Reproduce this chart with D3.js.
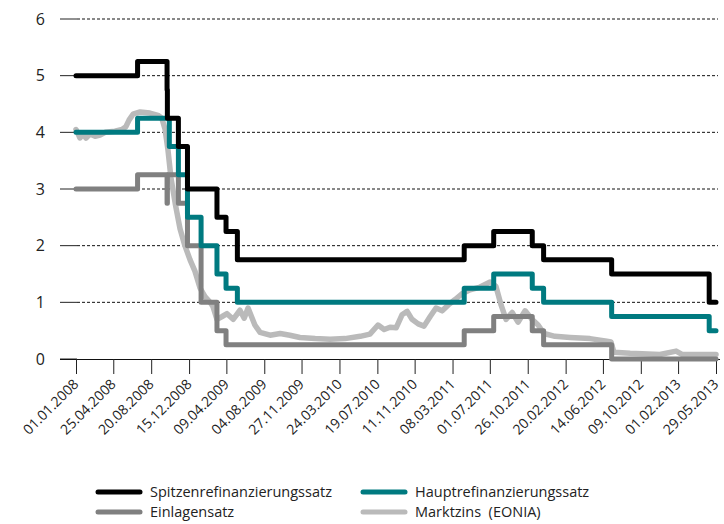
<!DOCTYPE html>
<html>
<head>
<meta charset="utf-8">
<script src="https://cdn.jsdelivr.net/npm/d3@7"></script>
<style>
  body { margin: 0; background: #fff; }
  svg text { font-family: "Open Sans", "DejaVu Sans", sans-serif; fill: #222; }
</style>
</head>
<body>
<svg width="724" height="524"></svg>
<script>
var yTicks = [0, 1, 2, 3, 4, 5, 6];
var xTicks = ["01.01.2008", "25.04.2008", "20.08.2008", "15.12.2008", "09.04.2009", "04.08.2009",
  "27.11.2009", "24.03.2010", "19.07.2010", "11.11.2010", "08.03.2011", "01.07.2011",
  "26.10.2011", "20.02.2012", "14.06.2012", "09.10.2012", "01.02.2013", "29.05.2013"];

// Leitzinsen (Stufen, gueltig ab Datum)
var spitzenrefi = [
  ["01.01.2008", 5.00], ["09.07.2008", 5.25], ["08.10.2008", 4.75], ["09.10.2008", 4.25],
  ["12.11.2008", 3.75], ["10.12.2008", 3.00], ["11.03.2009", 2.50], ["08.04.2009", 2.25],
  ["13.05.2009", 1.75], ["13.04.2011", 2.00], ["13.07.2011", 2.25], ["09.11.2011", 2.00],
  ["14.12.2011", 1.75], ["11.07.2012", 1.50], ["08.05.2013", 1.00], ["29.05.2013", 1.00]
];
var hauptrefi = [
  ["01.01.2008", 4.00], ["09.07.2008", 4.25], ["15.10.2008", 3.75], ["12.11.2008", 3.25],
  ["10.12.2008", 2.50], ["21.01.2009", 2.00], ["11.03.2009", 1.50], ["08.04.2009", 1.25],
  ["13.05.2009", 1.00], ["13.04.2011", 1.25], ["13.07.2011", 1.50], ["09.11.2011", 1.25],
  ["14.12.2011", 1.00], ["11.07.2012", 0.75], ["08.05.2013", 0.50], ["29.05.2013", 0.50]
];
var einlage = [
  ["01.01.2008", 3.00], ["09.07.2008", 3.25], ["08.10.2008", 2.75], ["09.10.2008", 3.25],
  ["12.11.2008", 2.75], ["10.12.2008", 2.00], ["21.01.2009", 1.00], ["11.03.2009", 0.50],
  ["08.04.2009", 0.25], ["13.04.2011", 0.50], ["13.07.2011", 0.75], ["09.11.2011", 0.50],
  ["14.12.2011", 0.25], ["11.07.2012", 0.00], ["29.05.2013", 0.00]
];
// EONIA
var eonia = [
  ["01.01.2008", 4.05], ["07.01.2008", 3.98], ["13.01.2008", 3.90], ["23.01.2008", 3.97],
  ["01.02.2008", 3.90], ["13.02.2008", 3.97], ["29.02.2008", 3.93], ["15.03.2008", 3.95],
  ["31.03.2008", 4.00], ["30.04.2008", 4.02], ["22.05.2008", 4.05], ["03.06.2008", 4.10],
  ["13.06.2008", 4.22], ["25.06.2008", 4.32], ["17.07.2008", 4.36], ["16.08.2008", 4.34],
  ["10.09.2008", 4.30], ["22.09.2008", 4.25], ["02.10.2008", 4.05], ["11.10.2008", 3.68],
  ["20.10.2008", 3.20], ["02.11.2008", 2.75], ["17.11.2008", 2.30], ["02.12.2008", 2.00],
  ["18.12.2008", 1.75], ["02.01.2009", 1.55], ["18.01.2009", 1.25], ["02.02.2009", 1.10],
  ["18.02.2009", 1.00], ["27.02.2009", 0.92], ["11.03.2009", 0.70], ["27.03.2009", 0.75],
  ["11.04.2009", 0.80], ["30.04.2009", 0.70], ["21.05.2009", 0.86], ["03.06.2009", 0.72],
  ["15.06.2009", 0.90], ["06.07.2009", 0.60], ["22.07.2009", 0.47], ["22.08.2009", 0.42],
  ["22.09.2009", 0.45], ["22.10.2009", 0.42], ["22.11.2009", 0.38], ["08.01.2010", 0.36],
  ["23.02.2010", 0.35], ["10.04.2010", 0.36], ["27.05.2010", 0.40], ["26.06.2010", 0.44],
  ["21.07.2010", 0.60], ["09.08.2010", 0.52], ["27.08.2010", 0.56], ["15.09.2010", 0.55],
  ["03.10.2010", 0.78], ["19.10.2010", 0.84], ["03.11.2010", 0.70], ["22.11.2010", 0.62],
  ["10.12.2010", 0.58], ["29.12.2010", 0.75], ["16.01.2011", 0.90], ["04.02.2011", 0.85],
  ["22.02.2011", 0.95], ["16.03.2011", 1.05], ["06.04.2011", 1.15], ["01.05.2011", 1.22],
  ["01.06.2011", 1.27], ["02.07.2011", 1.36], ["20.07.2011", 1.28], ["05.08.2011", 0.95],
  ["20.08.2011", 0.70], ["08.09.2011", 0.82], ["26.09.2011", 0.65], ["18.10.2011", 0.85],
  ["08.11.2011", 0.70], ["27.11.2011", 0.60], ["15.12.2011", 0.45], ["18.01.2012", 0.40],
  ["05.03.2012", 0.38], ["05.05.2012", 0.36], ["21.06.2012", 0.32], ["09.07.2012", 0.30],
  ["18.07.2012", 0.12], ["06.09.2012", 0.10], ["07.12.2012", 0.08], ["26.01.2013", 0.14],
  ["13.02.2013", 0.08], ["10.04.2013", 0.08], ["29.05.2013", 0.08]
];

var legendLabels = ["Spitzenrefinanzierungssatz", "Hauptrefinanzierungssatz", "Einlagensatz", "Marktzins  (EONIA)"];
var colors = ["#000000", "#007a80", "#808080", "#bababa"];

var svg = d3.select("svg");
var parse = d3.timeParse("%d.%m.%Y");

var x = d3.scaleTime()
    .domain([parse("01.01.2008"), parse("29.05.2013")])
    .range([76, 716]);
var y = d3.scaleLinear().domain([0, 6]).range([359, 19]);

// grid lines
svg.append("g").selectAll("line")
    .data(yTicks.filter(function(d) { return d > 0; }))
    .enter().append("line")
      .attr("x1", 77).attr("x2", 718)
      .attr("y1", function(d) { return y(d); })
      .attr("y2", function(d) { return y(d); })
      .attr("stroke", "#111")
      .attr("stroke-width", 1)
      .attr("stroke-dasharray", "3,2");

// y axis: short solid ticks and labels
var yAxis = svg.append("g");
yAxis.selectAll("line")
    .data(yTicks)
    .enter().append("line")
      .attr("x1", 60).attr("x2", 77)
      .attr("y1", function(d) { return y(d); })
      .attr("y2", function(d) { return y(d); })
      .attr("stroke", "#222");
yAxis.selectAll("text")
    .data(yTicks)
    .enter().append("text")
      .attr("x", 45)
      .attr("y", function(d) { return y(d); })
      .attr("dy", "0.36em")
      .attr("text-anchor", "end")
      .style("font-size", "16px")
      .text(function(d) { return d; });

// x axis
var xAxis = svg.append("g")
    .attr("transform", "translate(0," + y(0) + ")")
    .call(d3.axisBottom(x)
      .tickValues(xTicks.map(parse))
      .tickSize(15)
      .tickFormat(d3.timeFormat("%d.%m.%Y")));
xAxis.select(".domain").attr("d", "M60,0.5H720").attr("stroke", "#111");
xAxis.selectAll(".tick line").attr("stroke", "#222");
xAxis.selectAll(".tick text")
    .attr("x", 0).attr("y", 0).attr("dy", 0)
    .attr("transform", "translate(3,26) rotate(-45)")
    .attr("text-anchor", "end")
    .style("font-size", "14px")
    .style("font-family", "'Open Sans', sans-serif")
    .attr("fill", "#222");

// lines
var step = d3.line()
    .x(function(d) { return x(parse(d[0])); })
    .y(function(d) { return y(d[1]); })
    .curve(d3.curveStepAfter);
var plain = d3.line()
    .x(function(d) { return x(parse(d[0])); })
    .y(function(d) { return y(d[1]); });

var series = [
  {data: eonia, gen: plain, color: colors[3], w: 5.5},
  {data: einlage, gen: step, color: colors[2], w: 5},
  {data: hauptrefi, gen: step, color: colors[1], w: 5},
  {data: spitzenrefi, gen: step, color: colors[0], w: 5}
];
svg.append("g").selectAll("path")
    .data(series)
    .enter().append("path")
      .attr("d", function(s) { return s.gen(s.data); })
      .attr("fill", "none")
      .attr("stroke", function(s) { return s.color; })
      .attr("stroke-width", function(s) { return s.w; })
      .attr("stroke-linejoin", "round")
      .attr("stroke-linecap", "round");

// legend
var legend = svg.append("g").selectAll("g")
    .data(legendLabels)
    .enter().append("g")
      .attr("transform", function(d, i) {
        return "translate(" + (i % 2 ? 363 : 98) + "," + (i < 2 ? 492 : 512) + ")";
      });
legend.append("line")
    .attr("x1", 0).attr("x2", 42)
    .attr("stroke", function(d, i) { return colors[i]; })
    .attr("stroke-width", 5)
    .attr("stroke-linecap", "round");
legend.append("text")
    .attr("x", 52)
    .attr("dy", "0.36em")
    .style("font-size", "14.5px")
    .style("white-space", "pre")
    .text(function(d) { return d; });
</script>
</body>
</html>
